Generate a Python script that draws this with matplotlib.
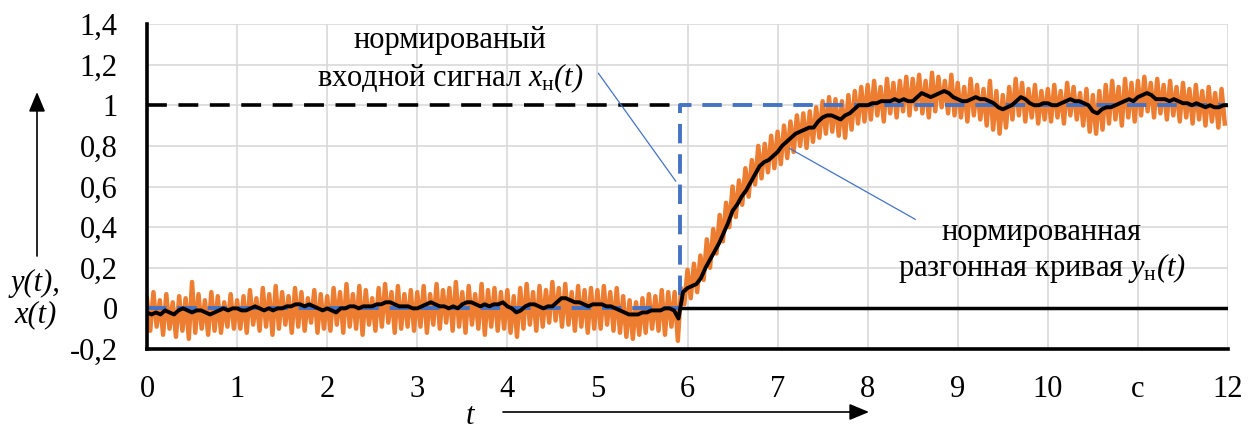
import numpy as np
import matplotlib
matplotlib.use('Agg')
import matplotlib.pyplot as plt

plt.rcParams['font.family'] = ['Liberation Serif', 'DejaVu Serif']
plt.rcParams['mathtext.fontset'] = 'custom'
plt.rcParams['mathtext.rm'] = 'Liberation Serif:italic'
plt.rcParams['mathtext.it'] = 'Liberation Serif:italic'
plt.rcParams['mathtext.sf'] = 'Liberation Serif'

# smoothed response y_н(t), sampled every 0.05 s from 0 to 12
y_smooth = [
    -0.02, -0.03, -0.02, -0.03, -0.01, -0.02, -0.03, -0.01, 0.00, -0.01, -0.02, -0.01, -0.01, -0.02, -0.03, -0.02, -0.01, 0.00, -0.01, 0.00,
    0.00, -0.01, -0.01, 0.00, 0.01, 0.00, -0.01, 0.00, -0.01, 0.00, 0.00, 0.01, 0.01, 0.02, 0.02, 0.01, 0.02, 0.01, 0.00, -0.01,
    0.00, -0.01, -0.02, 0.00, 0.00, 0.01, 0.01, 0.00, 0.01, 0.01, 0.01, 0.02, 0.02, 0.03, 0.03, 0.02, 0.01, 0.01, 0.01, 0.00,
    0.00, 0.01, 0.02, 0.03, 0.02, 0.01, 0.01, 0.00, 0.01, 0.00, 0.02, 0.03, 0.03, 0.02, 0.01, 0.02, 0.01, 0.02, 0.02, 0.03,
    0.01, 0.00, -0.02, -0.01, 0.01, 0.02, 0.02, 0.01, 0.00, 0.01, 0.01, 0.03, 0.05, 0.05, 0.04, 0.03, 0.03, 0.02, 0.01, 0.02,
    0.02, 0.02, 0.01, 0.01, 0.00, -0.01, -0.02, -0.03, -0.03, -0.03, -0.02, -0.02, -0.01, -0.01, -0.01, 0.00, 0.00, -0.01, -0.05, 0.08,
    0.10, 0.11, 0.12, 0.15, 0.20, 0.24, 0.28, 0.32, 0.37, 0.42, 0.48, 0.51, 0.55, 0.58, 0.62, 0.66, 0.70, 0.72, 0.73, 0.75,
    0.77, 0.80, 0.82, 0.84, 0.86, 0.87, 0.88, 0.89, 0.89, 0.92, 0.94, 0.95, 0.95, 0.94, 0.93, 0.95, 0.96, 0.98, 1.00, 1.00,
    1.00, 1.01, 1.01, 1.02, 1.02, 1.02, 1.03, 1.02, 1.03, 1.02, 1.02, 1.04, 1.06, 1.05, 1.04, 1.05, 1.06, 1.07, 1.06, 1.04,
    1.03, 1.02, 1.02, 1.03, 1.04, 1.03, 1.03, 1.02, 1.01, 0.99, 0.98, 0.99, 1.00, 1.02, 1.04, 1.03, 1.01, 1.00, 1.00, 1.01,
    1.01, 1.00, 1.00, 1.01, 1.02, 1.03, 1.02, 1.02, 1.01, 1.00, 0.97, 0.96, 0.98, 0.99, 0.99, 1.00, 1.01, 1.02, 1.03, 1.02,
    1.04, 1.05, 1.06, 1.05, 1.03, 1.03, 1.03, 1.02, 1.03, 1.02, 1.01, 1.01, 1.00, 1.01, 1.00, 0.99, 1.00, 0.99, 0.99, 1.00,
    1.00,
]

# raw (noisy) response: local maxima and minima, 14 cycles per second
raw_peaks = [
    0.05, 0.08, 0.04, 0.07, 0.03, 0.06, 0.05, 0.13, 0.07, 0.04, 0.08, 0.06, 0.03, 0.07,
    0.04, 0.06, 0.09, 0.05, 0.10, 0.07, 0.11, 0.08, 0.06, 0.10, 0.08, 0.05, 0.09, 0.07,
    0.06, 0.10, 0.08, 0.12, 0.07, 0.11, 0.09, 0.05, 0.10, 0.12, 0.08, 0.11, 0.07, 0.09,
    0.08, 0.11, 0.07, 0.12, 0.09, 0.10, 0.13, 0.08, 0.11, 0.07, 0.12, 0.09, 0.10, 0.08,
    0.09, 0.06, 0.10, 0.12, 0.08, 0.11, 0.09, 0.13, 0.10, 0.12, 0.08, 0.11, 0.09, 0.10,
    0.09, 0.11, 0.08, 0.10, 0.06, 0.04, 0.03, 0.05, 0.07, 0.06, 0.09, 0.08, 0.08, 0.10,
    0.19, 0.22, 0.26, 0.34, 0.39, 0.46, 0.52, 0.60, 0.63, 0.69, 0.73, 0.80, 0.81, 0.85,
    0.87, 0.90, 0.92, 0.95, 0.96, 0.97, 0.99, 1.02, 1.04, 1.03, 1.02, 1.05, 1.07, 1.09,
    1.10, 1.12, 1.09, 1.13, 1.11, 1.12, 1.14, 1.13, 1.15, 1.12, 1.16, 1.14, 1.12, 1.15,
    1.11, 1.09, 1.13, 1.10, 1.08, 1.12, 1.07, 1.05, 1.09, 1.13, 1.11, 1.08, 1.10, 1.07,
    1.08, 1.10, 1.07, 1.11, 1.09, 1.06, 1.08, 1.05, 1.07, 1.10, 1.12, 1.09, 1.13, 1.11,
    1.12, 1.14, 1.11, 1.13, 1.10, 1.12, 1.09, 1.11, 1.08, 1.10, 1.07, 1.09, 1.06, 1.08,
]
raw_troughs = [
    -0.11, -0.09, -0.13, -0.10, -0.14, -0.11, -0.15, -0.12, -0.10, -0.13, -0.11, -0.12, -0.09, -0.10,
    -0.10, -0.12, -0.08, -0.11, -0.09, -0.13, -0.10, -0.08, -0.12, -0.09, -0.11, -0.07, -0.12, -0.10,
    -0.11, -0.08, -0.12, -0.09, -0.10, -0.13, -0.08, -0.11, -0.09, -0.07, -0.12, -0.10, -0.09, -0.11,
    -0.09, -0.12, -0.08, -0.10, -0.07, -0.11, -0.09, -0.12, -0.08, -0.10, -0.13, -0.09, -0.11, -0.10,
    -0.12, -0.14, -0.10, -0.08, -0.11, -0.09, -0.07, -0.06, -0.09, -0.08, -0.11, -0.09, -0.12, -0.10,
    -0.10, -0.08, -0.11, -0.12, -0.14, -0.15, -0.13, -0.12, -0.10, -0.11, -0.13, -0.09, -0.16, 0.02,
    0.05, 0.08, 0.14, 0.20, 0.27, 0.33, 0.40, 0.45, 0.51, 0.55, 0.61, 0.64, 0.67, 0.69,
    0.71, 0.74, 0.77, 0.80, 0.79, 0.82, 0.84, 0.86, 0.87, 0.85, 0.84, 0.88, 0.91, 0.92,
    0.93, 0.95, 0.92, 0.96, 0.94, 0.97, 0.95, 0.98, 0.96, 0.94, 0.97, 0.99, 0.96, 0.95,
    0.94, 0.92, 0.95, 0.93, 0.90, 0.88, 0.86, 0.89, 0.93, 0.95, 0.92, 0.94, 0.91, 0.93,
    0.92, 0.94, 0.91, 0.95, 0.93, 0.90, 0.87, 0.86, 0.88, 0.91, 0.93, 0.90, 0.94, 0.92,
    0.95, 0.97, 0.94, 0.96, 0.93, 0.95, 0.92, 0.94, 0.91, 0.93, 0.90, 0.92, 0.89, 0.91,
]

step_time = 5.92
t_end = 12
x_ticks = list(range(13))
x_labels = ['0', '1', '2', '3', '4', '5', '6', '7', '8', '9', '10', 'с', '12']
y_ticks = [-0.2, 0, 0.2, 0.4, 0.6, 0.8, 1, 1.2, 1.4]
y_labels = ['-0,2', '0', '0,2', '0,4', '0,6', '0,8', '1', '1,2', '1,4']

t_smooth = np.linspace(0, t_end, len(y_smooth))
t_raw = np.arange(2 * len(raw_peaks)) / 28
y_raw = np.empty(len(t_raw))
y_raw[0::2] = raw_peaks
y_raw[1::2] = raw_troughs

ORANGE = '#ED7D31'
BLUE = '#4472C4'
FS = 22

fig = plt.figure(figsize=(12.57, 4.30), dpi=100)
ax = fig.add_axes([147 / 1257, 1 - 349 / 430, 1081 / 1257, 325 / 430])
ax.set_xlim(0, t_end)
ax.set_ylim(-0.2, 1.4)

# reference lines
ax.plot([0, step_time], [1, 1], color='black', lw=2.6, dashes=(5.5, 3.2), zorder=2)
ax.plot([step_time, t_end], [0, 0], color='black', lw=2.5, solid_capstyle='butt', zorder=2)

ax.plot(t_raw, y_raw, color=ORANGE, lw=3.2, zorder=3)
ax.plot([0, step_time, step_time, t_end], [0, 0, 1, 1], color=BLUE, lw=2.8,
        dashes=(5, 2.8), solid_joinstyle='round', zorder=4)
ax.plot(t_smooth, y_smooth, color='black', lw=2.8, zorder=5)

ax.set_xticks(x_ticks)
ax.set_xticklabels(x_labels)
ax.set_yticks(y_ticks)
ax.set_yticklabels(y_labels)
ax.tick_params(length=0, labelsize=FS)
ax.tick_params(axis='x', pad=19)
ax.tick_params(axis='y', pad=21)
ax.grid(color='#D9D9D9', lw=1.2)
ax.set_axisbelow(True)
for s in ['top', 'right']:
    ax.spines[s].set_visible(False)
for s in ['left', 'bottom']:
    ax.spines[s].set_linewidth(2.6)
    ax.spines[s].set_zorder(6)

# callouts
ax.text(3.36, 1.32, 'нормированый', ha='center', va='center', fontsize=FS)
ax.text(3.37, 1.133, r'входной сигнал $x_{\mathsf{н}}(t)$', ha='center', va='center', fontsize=FS)
ax.annotate('', xy=(5.87, 0.626), xytext=(5.01, 1.158),
            arrowprops=dict(arrowstyle='-', color=BLUE, lw=0.9, shrinkA=0, shrinkB=0))
ax.text(9.93, 0.374, 'нормированная', ha='center', va='center', fontsize=FS)
ax.text(9.93, 0.197, r'разгонная кривая $y_{\mathsf{н}}(t)$', ha='center', va='center', fontsize=FS)
ax.annotate('', xy=(7.13, 0.788), xytext=(8.53, 0.438),
            arrowprops=dict(arrowstyle='-', color=BLUE, lw=0.9, shrinkA=0, shrinkB=0))

# axis names with arrows
fig.text(35 / 1257, 1 - 283 / 430, 'y(t),', style='italic', ha='center', va='center', fontsize=FS)
fig.text(35 / 1257, 1 - 315 / 430, 'x(t)', style='italic', ha='center', va='center', fontsize=FS)
fig.text(470 / 1257, 1 - 416 / 430, 't', style='italic', ha='center', va='center', fontsize=FS)
arrow = dict(arrowstyle='-|>,head_length=0.6,head_width=0.25', color='black', lw=1.2,
             shrinkA=0, shrinkB=0, mutation_scale=20)
ax.annotate('', xy=(37, 430 - 92), xytext=(37, 430 - 256), xycoords='figure pixels',
            textcoords='figure pixels', arrowprops=arrow, annotation_clip=False)
ax.annotate('', xy=(869, 430 - 412), xytext=(503, 430 - 412), xycoords='figure pixels',
            textcoords='figure pixels', arrowprops=arrow, annotation_clip=False)

fig.savefig('out.png', dpi=100)
